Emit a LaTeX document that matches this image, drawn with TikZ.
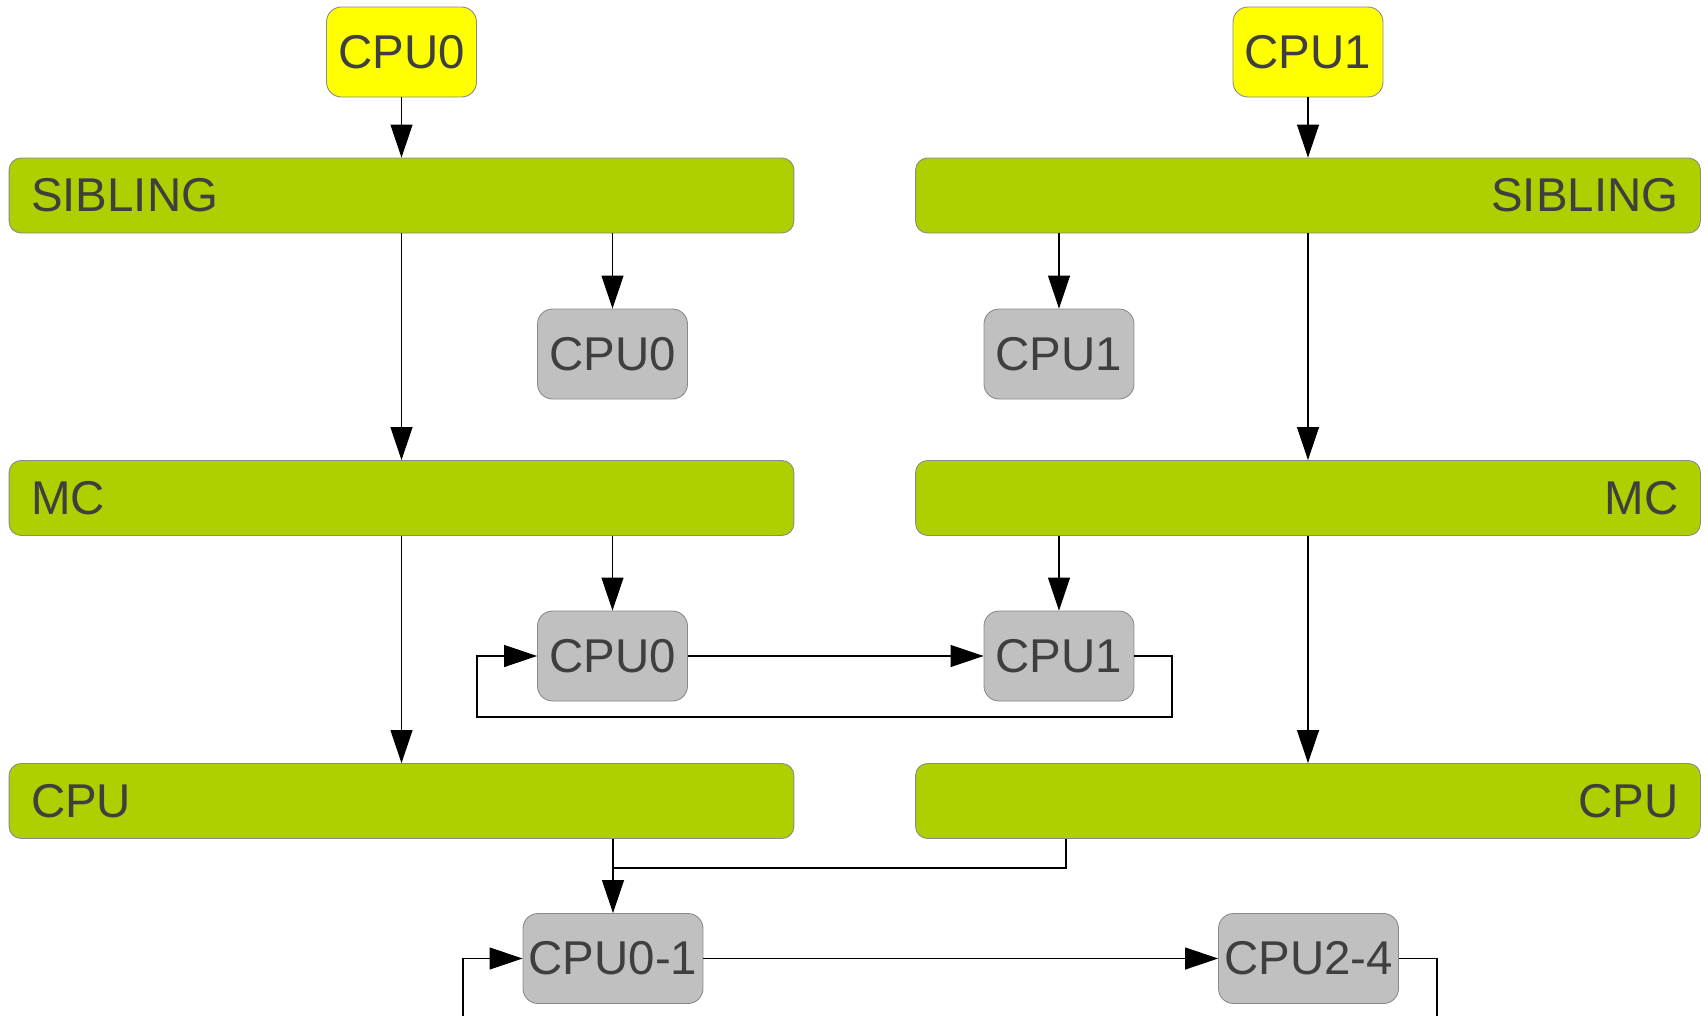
\documentclass[tikz,border=0pt]{standalone}
\usepackage{fontspec}
\setmainfont{Liberation Sans}
\usetikzlibrary{arrows.meta}
\definecolor{barfill}{HTML}{AECF00}
\definecolor{cpuyellow}{HTML}{FFFF00}
\definecolor{grpgray}{HTML}{C0C0C0}
\definecolor{txtgray}{HTML}{3F3F3F}
\definecolor{edgegray}{HTML}{8A8A8A}
\tikzset{
  box/.style={draw=edgegray, line width=0.5pt, rounded corners=0.3cm, inner sep=0pt,
    minimum width=3.0cm, minimum height=1.8cm, text=txtgray,
    font=\fontsize{27}{32}\selectfont},
  topcpu/.style={box, fill=cpuyellow},
  grp/.style={box, fill=grpgray},
  bar/.style={box, fill=barfill, rounded corners=0.24cm, minimum height=1.5cm,
    inner xsep=0.44cm, text width=14.82cm},
  arr/.style={-{Triangle[length=6.6mm,width=4.4mm]}, line width=0.6pt},
  lnk/.style={line width=0.6pt}
}
\begin{document}
\begin{tikzpicture}[x=0.02cm, y=-0.02cm]
  \useasboundingbox (0,0) rectangle (1708,1015);
  \clip (0,0) rectangle (1708,1015);
  % cpus on top
  \node[topcpu] (top0) at (401.5,52) {CPU0};
  \node[topcpu] (top1) at (1308,52) {CPU1};
  % domain levels
  \foreach \nm/\y/\txt in {sib/195.5/SIBLING, mc/498/MC, cpu/801/CPU}{
    \node[bar, align=left] (\nm-0) at (401.5,\y) {\txt};
    \node[bar, align=right] (\nm-1) at (1308,\y) {\txt};
  }
  % groups
  \node[grp] (g-sib-0) at (612.5,354) {CPU0};
  \node[grp] (g-sib-1) at (1059,354) {CPU1};
  \node[grp] (g-mc-0) at (612.5,656) {CPU0};
  \node[grp] (g-mc-1) at (1059,656) {CPU1};
  \node[grp, minimum width=3.6cm] (g-cpu-0) at (613,958.5) {CPU0-1};
  \node[grp, minimum width=3.6cm] (g-cpu-1) at (1308.5,958.5) {CPU2-4};
  \coordinate (loopR) at (1172,717);
  \coordinate (loopL) at (477,717);
  \coordinate (joinR) at (1066,868);
  \coordinate (botR) at (1437,1060);
  \coordinate (botL) at (463,1060);
  % left side
  \draw[arr] (top0) -- (sib-0.north -| top0);
  \draw[arr] (sib-0.south -| top0) -- (mc-0.north -| top0);
  \draw[arr] (mc-0.south -| top0) -- (cpu-0.north -| top0);
  \draw[arr] (sib-0.south -| g-sib-0) -- (g-sib-0);
  \draw[arr] (mc-0.south -| g-mc-0) -- (g-mc-0);
  % right side
  \draw[arr] (top1) -- (sib-1.north -| top1);
  \draw[arr] (sib-1.south -| top1) -- (mc-1.north -| top1);
  \draw[arr] (mc-1.south -| top1) -- (cpu-1.north -| top1);
  \draw[arr] (sib-1.south -| g-sib-1) -- (g-sib-1);
  \draw[arr] (mc-1.south -| g-mc-1) -- (g-mc-1);
  % group rings
  \draw[arr] (g-mc-0) -- (g-mc-1);
  \draw[arr] (g-mc-1.east) -| (loopR) -- (loopL) |- (g-mc-0.west);
  \draw[arr] (cpu-0.south -| g-cpu-0) -- (g-cpu-0);
  \draw[lnk] (cpu-1.south -| joinR) -- (joinR) -- (joinR -| g-cpu-0);
  \draw[arr] (g-cpu-0) -- (g-cpu-1);
  \draw[arr] (g-cpu-1.east) -| (botR) -- (botL) |- (g-cpu-0.west);
\end{tikzpicture}
\end{document}
